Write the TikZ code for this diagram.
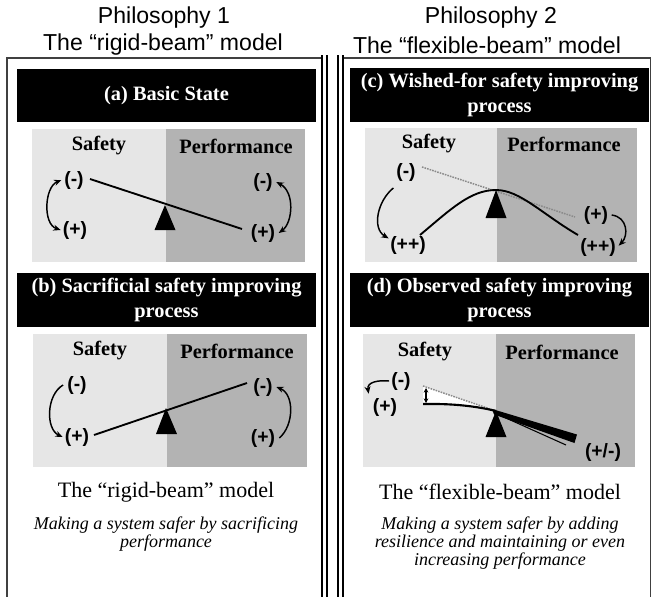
\documentclass[tikz,border=0pt]{standalone}
\usepackage{fontspec}
\setmainfont{Liberation Serif}
\newfontfamily\arialfont{Liberation Sans}
\usetikzlibrary{arrows.meta}
\definecolor{safebg}{HTML}{E6E6E6}
\definecolor{perfbg}{HTML}{B3B3B3}
\definecolor{framegray}{HTML}{404040}
\definecolor{dotgray}{HTML}{8A8A8A}
\begin{document}
\begin{tikzpicture}[x=0.75pt,y=-0.75pt,
  toptitle/.style={font=\arialfont\fontsize{17.3}{20}\selectfont, inner sep=0pt},
  header/.style={fill=black, text=white, font=\bfseries\fontsize{15.3}{19}\selectfont,
                 align=center, inner sep=0pt, minimum width=224.25pt, minimum height=40pt},
  zone/.style={font=\bfseries\fontsize{15.3}{17}\selectfont, inner sep=0pt},
  lbl/.style={font=\arialfont\bfseries\fontsize{14.5}{16}\selectfont, inner sep=1pt},
  model/.style={font=\fontsize{16.5}{19}\selectfont, inner sep=0pt},
  note/.style={font=\itshape\fontsize{13.5}{11.3}\selectfont, align=center, inner sep=0pt},
  beam/.style={line width=1.4pt},
  arr/.style={line width=1.1pt, -{Stealth[length=5.5pt,width=4.5pt]}},
  darr/.style={line width=1.1pt, {Stealth[length=5.5pt,width=4.5pt]}-{Stealth[length=5.5pt,width=4.5pt]}},
  guide/.style={dotgray, line width=1.1pt, dash pattern=on 1.2pt off 0.8pt},
  fulcrum/.style={fill=black}]

\useasboundingbox (0,0) rectangle (651,597);
\fill[white] (0,0) rectangle (651,597);

% column titles
\node[toptitle] (t1a) at (164,18) {Philosophy 1};
\node[toptitle] (t1b) at (163,45) {The “rigid-beam” model};
\node[toptitle] (t2a) at (491,18) {Philosophy 2};
\node[toptitle] (t2b) at (487,45) {The “flexible-beam” model};

% frame and double separators
\draw[framegray, line width=1.1pt] (7,597) -- (7,58) -- (322,58);
\draw[framegray, line width=1.1pt] (343,58) -- (651,58);
\draw[framegray, line width=0.8pt] (650.5,58) -- (650.5,597);
\foreach \sx in {322.3,326.7,338.3,342.7}
  \draw[black, line width=1.4pt] (\sx,55) -- (\sx,597);

% headers
\node[header] (ha) at (166.5,95.5) {(a) Basic State};
\node[header] (hb) at (166.5,300) {(b) Sacrificial safety improving\\process};
\node[header] (hc) at (499.5,95) {(c) Wished-for safety improving\\process};
\node[header] (hd) at (499.5,300) {(d) Observed safety improving\\process};

% ---------- panel (a) ----------
\fill[safebg] (32,129) rectangle (166,262);
\fill[perfbg] (166,129) rectangle (305,262);
\node[zone] (sa) at (99,146) {Safety};
\node[zone] (pa) at (236,146) {Performance};
\node[lbl] (a-sm) at (74,180) {(-)};
\node[lbl] (a-sp) at (75,230) {(+)};
\node[lbl] (a-pm) at (263,182) {(-)};
\node[lbl] (a-pp) at (263,233) {(+)};
\coordinate (a-l) at (90,179);
\coordinate (a-r) at (242,229);
\draw[beam] (a-l) -- (a-r);
\fill[fulcrum] (165,205) -- (175.5,230) -- (154.5,230) -- cycle;
\draw[darr] ([xshift=-1pt]a-sm.west) .. controls +(-17,7) and +(-18,-6) .. ([xshift=-0.5pt]a-sp.west);
\draw[darr] ([xshift=1.5pt]a-pm.east) .. controls +(19,10) and +(14,-10) .. ([xshift=1.5pt]a-pp.east);

% ---------- panel (b) ----------
\fill[safebg] (33,334) rectangle (167,467);
\fill[perfbg] (167,334) rectangle (307,467);
\node[zone] (sb) at (100,351) {Safety};
\node[zone] (pb) at (237,351) {Performance};
\node[lbl] (b-sm) at (77,385) {(-)};
\node[lbl] (b-sp) at (77,437) {(+)};
\node[lbl] (b-pm) at (263,387) {(-)};
\node[lbl] (b-pp) at (263,438) {(+)};
\coordinate (b-l) at (94,435);
\coordinate (b-r) at (247,383);
\draw[beam] (b-l) -- (b-r);
\fill[fulcrum] (166,408) -- (177,434) -- (156,434) -- cycle;
\draw[arr] ([xshift=-2pt]b-sm.west) .. controls +(-17,10) and +(-17,-8) .. ([xshift=-0.5pt]b-sp.west);
\draw[arr] ([xshift=2pt]b-pp.east) .. controls +(15,-13) and +(18,7) .. ([xshift=1.5pt]b-pm.east);

% ---------- panel (c) ----------
\fill[safebg] (365,128) rectangle (497,262);
\fill[perfbg] (497,128) rectangle (637,262);
\node[zone] (sc) at (429,144) {Safety};
\node[zone] (pc) at (564,144) {Performance};
\node[lbl] (c-sm) at (406,172) {(-)};
\node[lbl] (c-spp) at (408,245) {(++)};
\node[lbl] (c-pp) at (596,215) {(+)};
\node[lbl] (c-ppp) at (598,247) {(++)};
\coordinate (c-gl) at (422,167);
\coordinate (c-gr) at (575,217);
\coordinate (c-l) at (420,235);
\coordinate (c-top) at (496,190);
\coordinate (c-r) at (578,235);
\draw[guide] (c-gl) -- (c-gr);
\draw[beam] (c-l) .. controls (450,210) and (470,190) .. (c-top)
               .. controls (520,190) and (542,214) .. (c-r);
\fill[fulcrum] (496,190) -- (506.5,218) -- (485.5,218) -- cycle;
\draw[arr] ([xshift=-1pt,yshift=-4pt]c-sm.south west) .. controls +(-16,13) and +(-17,-10) .. ([xshift=0pt,yshift=-3pt]c-spp.north west);
\draw[arr] ([xshift=1.5pt]c-pp.east) .. controls +(16,2) and +(10,-10) .. ([xshift=1pt,yshift=1pt]c-ppp.east);

% ---------- panel (d) ----------
\fill[safebg] (363,334) rectangle (496,467);
\fill[perfbg] (496,334) rectangle (635,467);
\node[zone] (sd) at (425,352) {Safety};
\node[zone] (pd) at (562,352) {Performance};
\node[lbl] (d-sm) at (401,381) {(-)};
\node[lbl] (d-sp) at (385,407) {(+)};
\node[lbl] (d-pm) at (603,452) {(+/-)};
\coordinate (d-gl) at (423,386);
\coordinate (d-top) at (496,411);
\coordinate (d-bl) at (423,404);
\coordinate (d-bk) at (434,404);
% spread between the intended and the bent beam
\fill[white] (d-gl) -- (d-top) .. controls (484,408) and (462,404) .. (d-bk) -- (d-bl) -- cycle;
\draw[guide] (d-gl) -- (d-top);
\draw[line width=1.6pt] (d-bl) -- (d-bk) .. controls (462,404) and (484,408) .. (d-top);
\draw[line width=0.8pt, {Stealth[length=3.5pt,width=3.5pt]}-{Stealth[length=3.5pt,width=3.5pt]}] (426,388) -- (426,403);
\fill[fulcrum] (496,411) -- (506.5,437) -- (485.5,437) -- cycle;
\draw[line width=0.8pt] (497,414) -- (566,445);
\fill[black] (492,409) -- (577,434.5) -- (574.5,443) -- (494,414.5) -- cycle;
\draw[arr] ([xshift=-0.5pt]d-sm.west) .. controls +(-10,-1) and +(-2,-12) .. ([xshift=-2pt,yshift=2pt]d-sp.north west);

% ---------- captions ----------
\node[model] (ma) at (166,492) {The “rigid-beam” model};
\node[note] (na) at (166,534.5) {Making a system safer by sacrificing\\performance};
\node[model] (mb) at (500,492) {The “flexible-beam” model};
\node[note] (nb) at (500,543) {Making a system safer by adding\\resilience and maintaining or even\\increasing performance};
\end{tikzpicture}
\end{document}
